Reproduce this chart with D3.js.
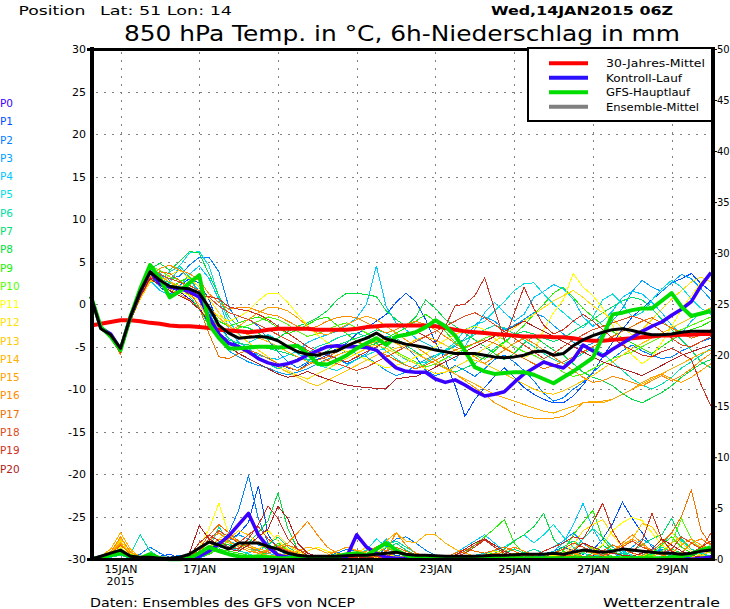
<!DOCTYPE html>
<html><head><meta charset="utf-8">
<script src="https://cdn.jsdelivr.net/npm/d3@7/dist/d3.min.js"></script>
<style>
body{margin:0;background:#fff;}
svg{display:block;}
text{font-family:"DejaVu Sans",sans-serif;fill:#000;}
</style>
</head><body>
<svg id="c" width="730" height="609"></svg>
<script>
// ---------------- DATA ----------------
const stepHours = 6;            // forecast step, 0..378 h from 14JAN2015 06Z
const dateTickHours = [18, 66, 114, 162, 210, 258, 306, 354];
const dateTickLabels = ["15JAN","17JAN","19JAN","21JAN","23JAN","25JAN","27JAN","29JAN"];
const yearLabel = "2015";
const tempTicks = [30,25,20,15,10,5,0,-5,-10,-15,-20,-25,-30];
const precipTicks = [50,45,40,35,30,25,20,15,10,5,0];
const memberNames = ["P0","P1","P2","P3","P4","P5","P6","P7","P8","P9","P10","P11","P12","P13","P14","P15","P16","P17","P18","P19","P20"];
const memberColors = ["#3c00ff","#0050ff","#0080ff","#00a0ff","#00c8ff","#00e0e0","#00e0a8","#00e070","#00e040","#20f000","#50ff00","#ffff00","#ffe000","#ffc800","#ffb000","#ffa000","#ff8c00","#f07000","#e04a20","#d03020","#b02020"];
const legendLabels = ["30-Jahres-Mittel","Kontroll-Lauf","GFS-Hauptlauf","Ensemble-Mittel"];

// 850 hPa temperature (deg C), 6-hourly
const climTemp = [-2.5,-2.3,-2.1,-1.9,-1.9,-2.0,-2.2,-2.3, -2.5,-2.6,-2.6,-2.7,-2.8,-3.0,-3.1,-3.2, -3.3,-3.2,-3.0,-2.9,-2.9,-2.9,-2.9,-3.0, -3.0,-3.0,-3.0,-2.9,-2.7,-2.6,-2.5,-2.5, -2.5,-2.5,-2.5,-2.6,-2.8,-3.0,-3.2,-3.3, -3.4,-3.5,-3.6,-3.7,-3.8,-3.8,-3.8,-3.9, -3.9,-4.0,-4.2,-4.3,-4.3,-4.2,-4.1,-4.0, -3.9,-3.8,-3.7,-3.7,-3.6,-3.6,-3.5,-3.5];
const controlTemp = [0.9,-2.8,-3.5,-5.3,-1.5,1.5,3.8,2.4, 2.0,1.8,1.5,0.8,-1.5,-3.5,-4.6,-5.0, -5.6,-6.4,-6.9,-7.2,-7.0,-6.6,-6.0,-5.5, -5.0,-4.9,-5.0,-5.0,-5.1,-5.4,-6.5,-7.5, -7.9,-8.0,-8.0,-8.8,-9.2,-8.9,-9.5,-10.2, -10.8,-10.6,-10.3,-9.2,-8.2,-7.5,-6.8,-7.2, -7.5,-6.5,-4.8,-5.5,-6.1,-5.3,-4.6,-3.9, -3.2,-2.6,-2.1,-1.3,-0.6,0.3,2.2,3.7];
const operTemp = [0.9,-2.7,-3.8,-5.4,-1.5,1.8,4.6,3.0, 0.8,1.5,2.5,3.4,-2.4,-4.0,-5.2,-5.2, -5.1,-5.0,-5.0,-5.1,-5.0,-4.9,-5.8,-7.0, -7.1,-6.6,-6.0,-5.2,-4.6,-4.0,-4.8,-3.8, -3.6,-3.3,-2.7,-1.9,-2.6,-3.7,-5.5,-7.4, -7.9,-8.2,-8.1,-8.0,-8.0,-8.3,-8.8,-9.3, -8.6,-7.9,-7.1,-6.3,-3.8,-1.2,-1.0,-0.7, -0.5,-0.5,0.4,1.3,-0.3,-1.4,-1.1,-0.8];
const meanTemp = [0.9,-2.9,-3.6,-5.2,-1.5,1.5,3.8,2.8, 2.1,1.9,1.8,1.3,-0.4,-2.5,-3.4,-4.0, -3.9,-3.8,-3.9,-4.3,-5.0,-5.6,-5.9,-6.0, -5.7,-5.5,-4.9,-4.4,-4.0,-3.4,-4.1,-4.4, -4.7,-4.9,-5.1,-5.4,-5.6,-5.8,-5.8,-5.8, -6.0,-6.2,-6.3,-6.2,-6.0,-5.6,-5.5,-6.0, -5.8,-4.9,-4.2,-3.7,-3.3,-3.0,-2.9,-3.1, -3.4,-3.6,-3.6,-3.5,-3.3,-3.2,-3.2,-3.2];

const tempP0 = [1,-2.8,-3.6,-5.3,-1.6,1.4,3.7,2.3, 1.9,1.5,0.6,-0.4,-2.4,-3.9,-4.6,-5.1, -5.7,-6.5,-6.8,-7.1,-7.0,-6.5,-6.1,-5.4, -5.1,-4.8,-5.1,-4.9,-5.2,-5.5,-6.4,-7.4, -7.8,-8.1,-8.1,-8.7,-9.3,-8.8,-9.6,-10.1, -10.7,-10.5,-10.2,-9.1,-8.3,-7.4,-6.9,-7.1, -7.6,-6.4,-4.9,-5.4,-6.0,-5.2,-4.7,-3.8, -3.3,-2.5,-2.2,-1.2,-0.7,0.4,2.1,3.6];
const tempP1 = [1,-2.9,-3.9,-5.6,-1.8,1.2,3.4,2.0, 1.2,2.2,3.0,2.5,0.5,-2.5,-4.0,-5.0, -5.6,-6.0,-6.3,-7.0,-7.5,-7.8,-7.0,-6.5, -6.0,-5.2,-4.6,-3.5,-2.8,-2.0,-1.2,0.2, 1.3,0.3,-1.8,-4.5,-6.6,-9.6,-13.2,-11.2, -9.8,-8.5,-7.5,-8.6,-9.8,-10.6,-11.2,-11.6, -11.6,-10.8,-9.5,-8.0,-6.2,-4.5,-3.0,-1.5, -0.5,0.5,1.5,2.5,3.0,3.6,2.4,1.5];
const tempP2 = [1,-2.7,-3.6,-5.2,-1.2,1.8,3.9,3.4, 3.0,3.3,4.6,5.5,5.5,3.8,-0.3,-2.2, -1.8,-2.6,-4.2,-5.6,-6.8,-7.5,-6.8,-6.0, -5.8,-6.4,-7.0,-6.5,-5.8,-4.5,-3.8,-4.2, -5.0,-6.2,-7.8,-8.4,-8.0,-7.2,-7.8,-8.5, -7.6,-6.5,-6.0,-6.8,-7.8,-9.0,-10.5,-11.4, -11.0,-10.0,-9.2,-8.0,-7.0,-6.4,-5.5,-4.8, -5.5,-6.0,-6.4,-6.2,-5.5,-5.0,-4.4,-4.0];
const tempP3 = [1,-2.8,-3.9,-5.7,-2.0,0.8,3.0,3.6, 2.8,4.2,3.0,1.5,-0.8,-3.5,-5.5,-6.2, -6.8,-7.2,-7.5,-8.0,-8.3,-8.0,-7.6,-7.0, -6.5,-6.0,-5.5,-5.8,-6.2,-7.0,-7.8,-8.4, -8.0,-7.2,-6.5,-6.0,-5.5,-5.0,-4.0,-2.5, -1.5,-2.0,-3.0,-2.5,-1.8,-1.0,-1.5,-2.5, -3.5,-4.5,-5.0,-4.6,-3.5,-2.0,-0.5,1.5, 2.8,2.0,1.5,2.5,3.5,3.0,1.8,0.5];
const tempP4 = [1,-2.7,-3.7,-5.4,-1.9,1.0,2.8,1.6, 1.0,2.0,3.5,4.5,3.0,0.5,-3.0,-4.5, -5.2,-6.0,-6.3,-6.5,-6.0,-5.5,-4.5,-4.0, -3.6,-3.2,-2.5,-1.6,0.0,4.5,-0.3,-2.2, -3.0,-4.0,-4.6,-5.2,-6.0,-6.6,-5.0,-3.0, -1.0,0.2,-1.0,-2.0,-1.2,0.8,1.5,2.3, 1.8,0.6,-1.5,-2.6,-2.0,-0.8,0.8,1.5, 1.2,0.2,-1.0,-2.5,-3.5,-2.0,-1.0,-0.5];
const tempP5 = [1,-2.9,-4.0,-5.5,-1.6,1.5,3.2,2.0, 2.5,4.5,6.0,6.2,4.5,0.8,-2.0,-3.5, -4.5,-4.0,-3.6,-4.2,-5.0,-5.8,-6.5,-7.2, -7.5,-7.8,-7.2,-6.5,-6.0,-5.5,-5.2,-5.8, -6.5,-7.0,-6.8,-6.0,-5.4,-4.5,-3.0,-2.5, -2.0,-0.8,0.3,1.6,2.4,2.5,1.2,0.0, -1.0,-2.0,-2.8,-1.5,0.5,1.2,0.0,-1.5, -1.0,0.5,1.8,2.8,2.0,0.6,-0.5,-1.2];
const tempP6 = [1,-2.8,-3.8,-5.4,-1.4,1.3,2.5,2.8, 3.8,4.5,3.2,1.0,-1.2,-2.8,-4.0,-4.8, -5.5,-6.2,-7.0,-7.6,-7.0,-6.4,-5.8,-5.0, -4.6,-4.0,-3.6,-3.4,-3.8,-4.6,-5.5,-6.4, -7.2,-7.6,-7.0,-6.2,-5.5,-4.8,-4.2,-3.6, -3.0,-2.5,-2.8,-3.5,-4.2,-5.0,-5.8,-6.5, -7.0,-6.5,-5.8,-5.2,-5.8,-6.8,-7.8,-8.8, -9.5,-10.0,-9.4,-8.6,-7.5,-6.8,-6.0,-5.2];
const tempP7 = [1,-2.7,-3.7,-5.3,-1.7,1.6,3.6,3.0, 2.5,2.0,1.0,-0.6,-2.5,-3.5,-4.2,-4.6, -4.8,-5.0,-5.2,-5.5,-5.8,-6.2,-6.6,-6.2, -5.5,-4.8,-4.4,-4.0,-3.6,-3.0,-3.4,-4.0, -4.8,-5.6,-6.4,-7.0,-7.5,-8.0,-7.5,-7.0, -6.2,-5.2,-4.4,-3.6,-3.2,-3.5,-4.0,-4.4, -4.0,-3.2,-2.5,-1.8,-1.0,-0.3,0.4,0.8, 0.5,-0.5,-1.8,-3.0,-4.2,-5.4,-6.8,-7.5];
const tempP8 = [1,-2.8,-3.9,-5.6,-1.3,1.9,4.2,4.8, 4.0,5.0,6.2,6.0,3.5,1.0,-1.5,-2.6, -2.8,-3.4,-4.2,-4.0,-3.2,-2.6,-2.2,-1.6, -0.8,0.5,1.3,1.3,1.1,0.9,-0.8,-1.8, -2.6,-1.5,0.5,-0.5,-1.8,-2.6,-3.4,-4.2, -5.0,-5.8,-6.5,-5.8,-4.6,-3.8,-4.6,-5.4, -6.0,-7.0,-8.0,-8.6,-9.0,-9.6,-10.5,-11.2, -11.6,-11.0,-10.4,-9.6,-8.6,-7.8,-7.0,-6.5];
const tempP9 = [1,-2.9,-4.0,-5.6,-1.5,1.6,3.8,2.6, 2.0,2.6,3.2,2.0,-0.5,-2.0,-2.6,-2.2, -1.8,-1.5,-2.0,-2.8,-3.5,-3.0,-2.4,-1.8, -1.5,-2.5,-3.5,-4.4,-5.0,-4.6,-4.0,-3.4, -2.8,-2.0,-1.2,-2.0,-3.2,-4.5,-5.6,-6.0, -6.5,-5.5,-4.5,-3.6,-2.5,-1.2,0.0,1.3, 2.0,0.8,-0.5,-1.5,-2.5,-3.2,-4.0,-4.6, -5.2,-5.8,-5.0,-4.2,-3.5,-3.0,-2.6,-2.0];
const tempP10 = [1,-2.7,-3.6,-5.2,-1.2,2.0,4.5,4.0, 3.2,2.8,2.0,0.5,-1.5,-2.8,-3.2,-2.8, -2.5,-2.0,-1.5,-1.8,-2.4,-3.2,-3.8,-3.5, -3.0,-2.5,-2.2,-2.8,-3.4,-4.0,-4.8,-5.6, -6.2,-6.8,-7.4,-7.0,-6.4,-5.8,-5.2,-4.6, -4.0,-3.6,-4.2,-5.0,-5.6,-6.0,-6.6,-7.2, -8.0,-8.5,-8.2,-7.6,-7.0,-6.4,-6.0,-5.6, -5.0,-4.4,-3.8,-3.4,-3.0,-2.5,-2.0,-1.5];
const tempP11 = [1,-2.8,-3.7,-5.4,-1.6,1.2,3.4,2.8, 2.2,1.5,1.0,0.5,-0.6,-1.4,-2.0,-1.5, -0.8,0.4,1.3,1.3,0.2,-1.2,-2.5,-3.6, -4.5,-5.2,-5.6,-6.0,-6.5,-7.0,-7.5,-7.2, -6.8,-6.2,-5.8,-5.0,-4.2,-3.6,-3.0,-2.6, -3.0,-4.0,-5.0,-5.8,-6.4,-5.6,-3.0,-1.0, 0.5,3.6,2.0,1.0,-0.5,-2.5,-4.5,-6.0, -7.0,-6.2,-4.5,-2.6,-0.6,1.0,2.6,3.4];
const tempP12 = [1,-2.8,-3.8,-5.5,-1.8,0.9,2.8,2.4, 3.4,4.0,3.0,2.0,0.6,-1.0,-2.5,-3.6, -4.5,-5.4,-6.2,-7.0,-7.8,-8.4,-8.8,-8.2, -7.6,-7.0,-6.4,-5.8,-5.2,-4.8,-5.2,-5.8, -6.4,-7.0,-7.6,-8.2,-8.0,-7.4,-6.8,-6.0, -5.2,-4.4,-3.6,-2.8,-2.0,-1.2,-0.4,0.4, 1.0,1.6,0.8,-0.2,-1.0,-1.8,-2.8,-3.6, -3.0,-1.8,-0.6,0.6,1.6,2.6,3.2,2.6];
const tempP13 = [1,-2.9,-3.9,-5.7,-2.0,0.6,2.6,3.2, 2.6,1.8,1.2,0.0,-1.8,-3.4,-4.6,-5.2, -5.8,-6.4,-6.8,-7.4,-8.0,-8.6,-9.2,-9.6, -9.0,-8.4,-7.8,-7.2,-6.6,-6.0,-5.6,-5.2, -4.8,-4.2,-3.8,-4.2,-4.8,-5.4,-6.0,-6.6, -7.0,-7.6,-8.2,-8.8,-9.4,-10.0,-10.4,-10.6, -10.2,-9.6,-9.0,-8.4,-7.6,-6.8,-6.0,-5.2, -4.6,-4.0,-3.4,-2.8,-2.2,-1.6,-1.0,-0.4];
const tempP14 = [1,-2.7,-3.7,-5.3,-1.5,1.7,3.7,3.3, 2.6,2.2,1.6,0.8,-0.4,-1.6,-2.6,-3.2, -3.6,-4.0,-4.4,-5.0,-5.6,-6.2,-6.8,-7.0, -6.6,-6.0,-5.6,-5.2,-4.8,-4.4,-4.0,-4.6, -5.2,-5.8,-6.4,-7.0,-7.6,-8.2,-8.8,-9.4, -10.0,-10.6,-11.0,-11.4,-11.8,-12.2,-12.6,-12.8, -12.4,-12.0,-11.6,-11.4,-11.6,-11.2,-10.6,-10.0, -9.4,-8.8,-8.2,-7.6,-7.0,-6.4,-5.8,-5.4];
const tempP15 = [1,-2.8,-3.8,-5.6,-1.7,1.4,3.3,2.4, 1.8,1.2,0.5,-0.6,-1.8,-2.6,-3.2,-2.6, -1.8,-1.0,-0.4,-0.4,-0.8,-1.6,-2.6,-3.4, -3.6,-3.0,-2.4,-1.8,-1.4,-1.8,-2.6,-3.4, -4.2,-5.0,-5.8,-6.6,-7.4,-8.2,-9.0,-9.8, -10.6,-11.6,-12.2,-12.8,-13.2,-13.4,-13.4,-13.4, -13.2,-12.6,-11.6,-11.6,-11.4,-11.2,-10.6,-10.0, -9.2,-8.6,-8.2,-8.8,-9.2,-8.6,-7.8,-7.0];
const tempP16 = [1,-2.9,-4.0,-5.8,-1.9,1.1,3.2,4.2, 4.6,4.0,3.6,2.8,1.2,0.2,-0.6,-0.4, -0.4,-0.8,-1.2,-1.4,-2.0,-2.6,-3.0,-2.6, -2.0,-1.6,-1.4,-1.6,-2.2,-2.8,-3.4,-3.0, -2.4,-2.0,-2.4,-3.0,-3.8,-4.6,-5.4,-6.2, -7.0,-6.2,-5.4,-4.6,-4.0,-4.6,-5.4,-6.2, -7.0,-7.8,-8.6,-9.2,-9.0,-8.5,-8.8,-9.2, -9.6,-9.0,-8.4,-9.0,-8.4,-7.6,-6.6,-5.8];
const tempP17 = [1,-2.8,-3.9,-5.9,-2.1,0.8,2.9,3.8, 3.6,2.8,1.6,-0.4,-3.5,-6.2,-6.4,-5.8, -5.4,-5.8,-6.4,-7.0,-7.4,-7.8,-7.2,-6.6, -6.2,-5.6,-5.0,-4.4,-4.8,-5.4,-6.0,-6.6, -7.2,-7.6,-7.2,-6.6,-6.0,-5.4,-5.0,-4.6, -4.2,-4.6,-5.2,-5.8,-6.4,-7.0,-7.6,-7.2, -6.8,-6.2,-5.6,-5.0,-4.4,-3.8,-3.2,-2.6, -2.0,-1.6,-2.2,-2.8,-3.4,-4.0,-3.6,-3.0];
const tempP18 = [1,-2.7,-3.8,-5.6,-1.4,1.5,3.6,3.5, 3.0,2.6,2.2,1.6,0.8,-0.2,-1.0,-1.4, -1.8,-2.4,-3.0,-3.6,-4.2,-4.8,-5.4,-6.0, -6.6,-7.0,-7.4,-7.8,-7.4,-6.8,-6.2,-5.6, -5.0,-4.4,-3.8,-3.2,-2.6,-2.0,-1.4,-1.0, -1.6,-2.4,-3.2,-4.0,-4.8,-5.6,-6.4,-5.8, -5.0,-4.2,-3.6,-3.0,-2.6,-2.2,-1.8,-1.4, -1.8,-2.4,-3.2,-4.0,-4.8,-5.0,-4.4,-3.8];
const tempP19 = [1,-2.8,-3.7,-5.5,-1.8,1.3,3.1,2.7, 2.2,1.8,1.2,0.9,0.9,0.6,-0.3,-0.6, -0.8,-1.2,-1.8,-2.6,-3.4,-4.2,-5.0,-5.6, -6.0,-6.4,-6.8,-6.2,-5.6,-5.0,-4.4,-3.8, -3.4,-3.2,-3.8,-4.6,-2.6,-0.2,0.0,1.0, 3.1,-0.6,-4.2,-1.1,2.0,-0.5,-2.5,-3.5, -3.0,-2.0,-1.2,-2.0,-3.0,-4.0,-4.8,-5.4, -6.0,-6.2,-5.6,-5.2,-5.8,-6.5,-9.5,-12.0];
const tempP20 = [1,-2.9,-4.0,-5.7,-2.0,0.9,3.0,2.2, 1.6,1.0,0.4,-0.6,-2.0,-3.6,-5.0,-5.8, -6.4,-7.0,-7.6,-8.2,-8.6,-8.4,-7.9,-8.4, -8.8,-9.2,-9.5,-9.7,-9.8,-9.9,-9.9,-8.8, -8.6,-8.5,-8.0,-7.4,-6.8,-6.2,-5.6,-5.0, -4.4,-3.8,-3.2,-2.6,-2.0,-2.6,-3.2,-3.8, -4.4,-5.0,-5.6,-6.2,-6.8,-7.2,-7.6,-8.0, -8.4,-7.8,-7.2,-6.6,-6.0,-5.6,-5.2,-4.8];
const memberTemps = [tempP0,tempP1,tempP2,tempP3,tempP4,tempP5,tempP6,tempP7,tempP8,tempP9,tempP10,tempP11,tempP12,tempP13,tempP14,tempP15,tempP16,tempP17,tempP18,tempP19,tempP20];

// 6-h precipitation (mm)
const controlPrec = [0,0.2,0.5,0.8,0.2,0.1,0,0, 0,0,0.1,0.3,0.8,1.5,2.3,3.4, 4.5,2.4,1.2,0.4,0.2,0.1,0,0, 0,0.1,0.3,2.4,1.2,0.6,0.2,0.1, 0.1,0,0,0,0,0,0,0, 0,0,0,0,0.1,0.1,0.1,0, 0,0,0.1,0.1,0.1,0,0,0, 0,0,0.1,0.1,0.1,0,0.1,0.2];
const operPrec = [0,0.2,0.4,0.6,0.3,0.1,0.5,0.1, 0,0,0.1,0.6,1.2,0.8,0.5,0.3, 0.2,0.3,0.2,0.1,0.1,0.2,0.1,0.1, 0.2,0.3,0.5,0.6,0.4,1.0,1.6,0.9, 0.4,0.2,0.1,0.1,0.1,0.1,0.1,0.1, 0.1,0.1,0.1,0.1,0.1,0.1,0.1,0.1, 0.1,0.1,0.1,0.1,0.1,0.1,0.1,0.1, 0.1,0.1,0.1,0.2,0.3,0.5,0.9,1.2];
const meanPrec = [0,0.3,0.6,0.9,0.3,0.2,0.2,0.1, 0.1,0.2,0.5,1.1,1.7,1.4,1.0,1.6, 1.6,1.6,1.25,1.0,0.6,0.4,0.3,0.3, 0.3,0.3,0.35,0.4,0.4,0.5,0.6,0.7, 0.5,0.4,0.4,0.35,0.3,0.3,0.3,0.3, 0.35,0.4,0.4,0.45,0.5,0.5,0.5,0.6, 0.5,0.7,0.9,0.8,0.7,0.8,1.0,0.9, 0.8,0.7,0.6,0.6,0.5,0.6,0.8,0.9];

const precP0 = [0,0.2,0.5,0.8,0.2,0.1,0,0, 0,0,0.1,0.3,0.8,1.4,2.2,3.3, 4.4,2.5,1.2,0.4,0.2,0.1,0,0, 0,0.1,0.3,2.2,1.1,0.5,0.2,0.1, 0,0,0,0,0,0,0,0, 0,0,0,0,0.2,0.3,0.1,0, 0,0,0.1,0.4,0.2,0,0,0, 0,0,0.1,0.3,0.1,0,0.2,0.4];
const precP1 = [0,0.1,0.3,0.5,0.1,0,0,0.3, 0.5,0.1,0,0.2,0.6,1.2,1.8,2.5, 3.6,7.2,2.4,1.0,0.3,0.1,0,0, 0.2,0.4,0.2,0,0.1,0.3,0.6,0.4, 0.2,0.1,0,0,0,0,0.1,0.2, 0.3,0.2,0,0,0.1,0.2,0.5,0.8, 1.2,0.8,0.5,0.9,2.0,3.5,5.6,4.0, 2.6,1.2,0.6,0.3,0.1,0.2,0.4,0.3];
const precP2 = [0,0.1,0.4,0.7,0.2,0.5,1.2,0.6, 0.2,0.4,0.1,0.3,0.8,1.5,2.6,4.8, 8.2,4.0,1.6,0.6,0.2,0,0,0.1, 0.3,0.6,1.0,0.8,0.4,0.2,1.2,2.0, 2.2,1.6,0.9,0.4,0.2,0,0,0, 0.1,0.3,0.2,0.1,0,0,0.2,0.4, 0.3,0.1,0,0.2,0.5,0.3,0.1,0, 0.2,0.6,1.0,0.6,0.3,0.1,0,0.2];
const precP3 = [0,0.1,0.3,0.6,0.2,0,0,0, 0,0,0,0.1,0.5,1.0,1.8,2.4, 2.0,1.4,1.0,0.5,0.2,0.1,0,0, 0,0.2,0.5,0.3,0.1,0,0.3,0.6, 0.4,0.2,0.1,0,0,0,0.2,0.4, 0.6,0.3,0.1,0,0.2,0.4,0.8,1.2, 1.8,2.6,1.6,0.8,0.4,0.2,0.6,1.2, 2.0,1.4,0.8,0.4,0.2,0.4,0.8,1.2];
const precP4 = [0,0,0.2,0.4,0.1,0,0,0, 0,0,0,0.3,0.9,1.6,1.2,0.8, 0.6,1.0,1.4,0.9,0.4,0.2,0.1,0, 0,0.2,0.4,0.6,0.3,0.8,2.0,1.0, 0.5,0.2,0.1,0,0.2,0.6,1.2,1.8, 2.4,1.6,0.8,0.4,0.2,0.1,0.4,0.8, 1.6,3.4,5.5,3.0,1.4,0.6,0.3,0.1, 0.4,1.0,0.6,0.3,0.2,0.6,1.2,0.9];
const precP5 = [0,0.1,0.3,0.5,0.2,0,0,0, 0,0,0,0.2,0.6,1.2,1.8,1.4, 1.0,0.8,0.6,0.3,0.1,0,0,0, 0,0.1,0.3,0.5,0.9,2.0,1.2,0.6, 0.3,0.1,0,0,0,0.1,0.2,0.4, 0.6,0.8,1.2,1.8,2.4,1.6,2.4,3.4, 2.2,1.2,0.6,0.3,0.5,1.0,0.8,0.4, 0.2,0.6,1.4,2.6,1.8,1.0,0.6,0.3];
const precP6 = [0,0.1,0.5,0.9,0.5,2.4,0.8,0.2, 0,0,0.1,0.4,1.0,3.2,1.6,0.9, 0.5,0.3,0.6,1.0,0.8,0.4,0.2,0.1, 0,0,0.1,0.3,0.6,1.0,1.4,1.8, 1.2,0.6,0.3,0.1,0,0,0.1,0.3, 0.2,0.1,0,0.2,0.6,1.0,0.6,0.3, 0.2,0.8,2.0,3.0,2.2,1.2,0.6,0.3, 0.2,0.5,1.2,0.8,0.4,0.3,1.0,2.6];
const precP7 = [0,0.2,0.4,0.7,0.3,0.1,0,0, 0,0,0,0.2,0.7,1.4,2.2,1.6, 1.2,0.8,1.4,2.2,1.2,0.6,0.3,0.1, 0,0,0.1,0.2,0.4,0.3,0.8,1.6, 0.9,0.4,0.2,0.1,0,0,0,0.1, 0.2,0.3,0.6,1.0,0.6,0.3,0.2,0.6, 1.2,1.8,1.2,0.6,0.3,0.2,0.4,0.8, 1.4,2.0,2.4,4.0,2.0,1.0,0.5,0.3];
const precP8 = [0,0.1,0.3,0.6,0.2,0,0,0, 0,0,0.1,0.3,0.9,1.8,1.4,1.0, 1.6,2.6,3.8,6.5,3.0,1.0,0.4,0.2, 0.1,0,0,0.1,0.2,0.4,0.6,0.3, 0.1,0,0,0,0,0.1,0.2,0.3, 0.4,0.6,1.0,1.8,2.4,3.2,4.5,2.0, 0.8,0.4,0.2,0.6,1.4,0.8,0.4,0.2, 0.1,0.3,0.6,1.0,0.6,0.3,0.2,0.1];
const precP9 = [0,0.2,0.4,0.6,0.2,0,0,0, 0,0,0,0.2,0.5,1.0,0.8,0.6, 0.4,0.3,0.8,1.6,0.9,0.4,0.2,0.1, 0,0.1,0.2,0.4,0.8,1.2,1.7,0.9, 0.4,0.2,0.1,0,0,0.2,0.6,1.4, 2.2,3.0,3.9,1.6,0.6,0.2,0.1,0.3, 0.8,2.4,3.6,4.8,2.0,0.8,0.3,0.1, 0.2,0.6,1.4,2.2,1.2,0.6,0.3,0.2];
const precP10 = [0,0.1,0.3,0.5,0.1,0,0,0, 0,0,0,0.2,0.6,1.2,1.8,1.2, 0.8,0.6,1.0,1.4,0.8,0.4,0.2,0.1, 0.1,0.2,0.4,0.3,0.2,0.6,1.2,0.7, 0.3,0.1,0,0,0,0,0.1,0.2, 0.4,0.3,0.2,0.1,0,0.1,0.3,0.6, 0.4,0.2,0.6,1.2,0.6,0.3,0.2,0.1, 0.2,0.4,0.8,1.6,4.0,2.0,1.0,0.6];
const precP11 = [0,0.2,0.4,1.2,0.4,0.1,0,0, 0,0,0.2,1.2,3.0,5.5,2.4,1.6, 1.4,2.2,2.8,1.8,1.0,0.6,0.8,1.2, 0.8,0.6,0.4,0.2,0.1,0.2,0.4,0.3, 0.2,0.1,0,0,0,0,0,0.2, 0.4,0.8,0.6,0.3,0.2,0.1,0.2,0.4, 1.0,1.6,1.2,0.8,1.4,2.8,3.6,4.1, 3.8,2.6,1.4,0.8,0.4,0.2,0.1,0.2];
const precP12 = [0,0.3,0.8,1.8,0.6,0.1,0,0, 0,0,0.1,0.4,1.0,2.0,2.6,1.8, 1.2,1.0,1.6,2.4,1.4,0.8,0.4,0.2, 0.1,0,0.2,0.6,1.2,0.8,0.4,0.2, 0.1,0,0,0,0,0.1,0.2,0.1, 0,0.1,0.3,0.6,0.4,0.2,0.1,0.3, 0.6,1.4,2.8,3.4,3.9,2.4,1.2,0.6, 0.3,0.8,1.6,2.6,1.6,0.8,0.4,0.2];
const precP13 = [0,0.2,0.6,2.0,0.8,0.2,0,0, 0,0,0,0.3,0.8,1.4,2.0,2.8, 2.4,1.6,1.0,0.6,0.3,0.2,0.1,0, 0,0.1,0.2,0.4,0.2,0.1,0,0.1, 0.2,0.1,0,0,0,0,0,0, 0.1,0.2,0.4,0.2,0.1,0,0.1,0.2, 0.4,0.6,1.0,0.6,0.3,0.6,1.2,2.0, 3.5,3.2,1.8,0.9,0.4,0.2,0.4,0.8];
const precP14 = [0,0.3,1.0,2.6,1.0,0.2,0,0, 0,0,0.1,0.4,1.2,2.0,1.6,1.4, 1.0,0.6,0.4,0.3,0.5,0.8,1.2,1.0, 0.6,0.8,1.2,0.9,0.6,1.0,1.8,2.6, 1.8,1.6,2.4,2.4,1.6,1.0,0.6,0.3, 0.2,0.1,0,0,0,0.1,0.2,0.3, 0.2,0.4,0.8,0.6,0.3,0.2,0.1,0, 0.1,0.3,0.6,1.6,2.2,1.6,1.2,0.8];
const precP15 = [0,0.2,0.6,1.6,0.5,0.1,0,0, 0,0,0,0.3,1.0,1.6,2.2,1.8, 1.4,1.0,0.8,1.2,0.9,0.6,0.3,0.2, 0.4,0.8,1.2,0.8,0.4,0.2,0.5,1.0, 0.6,0.3,0.1,0,0,0,0,0.1, 0.3,0.6,0.4,0.2,0.1,0,0,0.2, 0.5,1.0,1.6,1.0,0.6,0.8,1.4,2.0, 1.4,0.8,0.4,0.6,1.4,2.0,1.4,1.0];
const precP16 = [0,0.2,0.7,2.2,0.7,0.2,0,0, 0,0,0.1,0.6,1.8,2.6,1.8,1.2, 0.8,0.6,0.8,1.2,1.6,2.6,3.7,2.4, 1.2,0.6,0.3,0.5,0.8,1.2,0.8,2.6, 1.4,0.6,0.3,0.1,0,0,0,0.1, 0.2,0.4,0.8,1.2,0.8,0.4,0.2,0.1, 0.2,0.6,0.3,0.2,0.4,0.8,1.6,2.4, 1.6,0.8,0.4,0.2,0.6,1.6,2.0,1.4];
const precP17 = [0,0.2,0.5,1.4,0.5,0.1,0,0, 0,0,0.2,1.0,2.4,3.4,2.6,1.8, 1.2,0.8,0.6,1.0,1.4,1.0,0.6,0.3, 0.2,0.4,0.6,0.4,0.2,0.4,0.8,1.2, 0.8,0.4,0.2,0.1,0.2,0.6,1.0,0.8, 0.6,0.9,1.2,0.8,0.4,0.2,0.1,0.2, 0.4,0.3,0.2,0.4,0.8,1.4,1.0,0.6, 0.4,0.8,1.6,2.6,4.2,6.8,2.8,1.4];
const precP18 = [0,0.1,0.4,1.0,0.3,0,0,0, 0,0,0.1,0.8,2.0,2.8,2.2,1.6, 2.4,3.2,2.0,1.2,0.8,0.5,0.3,0.1, 0,0.1,0.2,0.3,0.2,0.1,0.3,0.6, 0.4,0.2,0.1,0,0.1,0.4,0.8,1.4, 1.9,1.4,0.8,0.4,0.2,0.1,0.2,0.6, 1.0,1.6,1.2,0.8,0.4,0.6,1.2,1.8, 1.2,0.8,0.6,1.0,2.2,1.6,1.0,2.6];
const precP19 = [0,0.1,0.3,0.7,0.2,0,0,0, 0,0,0.3,1.6,2.4,1.8,1.2,1.0, 2.0,3.4,5.2,4.0,2.0,1.0,0.4,0.2, 0,0,0.1,0.2,0.4,0.3,0.2,0.1, 0,0,0,0,0,0.2,0.6,1.2, 1.9,1.2,0.6,0.3,0.2,0.4,0.8,1.2, 1.6,2.2,2.0,3.6,5.5,2.8,1.2,0.6, 1.8,4.5,2.0,0.8,0.4,0.6,1.2,1.8];
const precP20 = [0,0.1,0.4,0.8,0.3,0.1,0,0, 0,0,0.6,3.3,2.0,1.4,1.0,0.8, 1.4,2.2,3.0,5.2,4.0,1.6,0.6,0.3, 0.1,0,0,0.1,0.2,0.1,0,0, 0,0,0,0.1,0.2,0.4,1.0,1.6, 2.0,1.4,0.8,0.4,0.2,0.1,0,0.1, 0.3,0.8,1.6,1.2,0.8,0.6,0.4,0.3, 0.6,1.0,2.0,1.4,0.8,0.4,0.2,0.3];
const memberPrecs = [precP0,precP1,precP2,precP3,precP4,precP5,precP6,precP7,precP8,precP9,precP10,precP11,precP12,precP13,precP14,precP15,precP16,precP17,precP18,precP19,precP20];

// ---------------- CHART ----------------
const svg = d3.select("#c");
const x = d3.scaleLinear().domain([0, 378]).range([91, 711]);
const yT = d3.scaleLinear().domain([-30, 30]).range([559.3, 49]);
const yP = d3.scaleLinear().domain([0, 50]).range([559.3, 49]);

// gridlines
const grid = svg.append("g").attr("stroke", "#808080").attr("stroke-width", 1)
  .attr("stroke-dasharray", "2,6").attr("shape-rendering", "crispEdges");
grid.selectAll("line.h").data(tempTicks.filter(t => t > -30 && t < 30)).join("line")
  .attr("x1", 96).attr("x2", 711)
  .attr("y1", d => Math.round(yT(d)) + 0.5).attr("y2", d => Math.round(yT(d)) + 0.5);
grid.selectAll("line.v").data(dateTickHours).join("line")
  .attr("x1", d => Math.round(x(d)) + 0.5).attr("x2", d => Math.round(x(d)) + 0.5)
  .attr("y1", 52).attr("y2", 558);

const lineT = d3.line().x((d, i) => x(i * stepHours)).y(d => yT(d));
const lineP = d3.line().x((d, i) => x(i * stepHours)).y(d => yP(d));

// members
const mg = svg.append("g").attr("fill", "none").attr("stroke-width", 1).attr("shape-rendering", "crispEdges");
memberPrecs.forEach((s, k) => mg.append("path").attr("d", lineP(s)).attr("stroke", memberColors[k]));
memberTemps.forEach((s, k) => mg.append("path").attr("d", lineT(s)).attr("stroke", memberColors[k]));

// main lines
const main = svg.append("g").attr("fill", "none").attr("stroke-linejoin", "round");
main.append("path").attr("d", lineT(climTemp)).attr("stroke", "#ff0000").attr("stroke-width", 4);
main.append("path").attr("d", lineP(controlPrec)).attr("stroke", "#3a00ff").attr("stroke-width", 3.5);
main.append("path").attr("d", lineT(controlTemp)).attr("stroke", "#3a00ff").attr("stroke-width", 3.5);
main.append("path").attr("d", lineP(operPrec)).attr("stroke", "#00dd00").attr("stroke-width", 4);
main.append("path").attr("d", lineT(operTemp)).attr("stroke", "#00dd00").attr("stroke-width", 4);
main.append("path").attr("d", lineP(meanPrec)).attr("stroke", "#000").attr("stroke-width", 3);
main.append("path").attr("d", lineT(meanTemp)).attr("stroke", "#000").attr("stroke-width", 3);

// frame
const frame = svg.append("g").attr("stroke", "#000").attr("shape-rendering", "crispEdges");
frame.append("line").attr("x1", 92).attr("x2", 92).attr("y1", 47).attr("y2", 561).attr("stroke-width", 4);
frame.append("line").attr("x1", 713).attr("x2", 713).attr("y1", 47).attr("y2", 561).attr("stroke-width", 4);
frame.append("line").attr("x1", 87).attr("x2", 715).attr("y1", 49).attr("y2", 49).attr("stroke-width", 3);
frame.append("line").attr("x1", 87).attr("x2", 715).attr("y1", 559.5).attr("y2", 559.5).attr("stroke-width", 3);

// axes
const axL = svg.append("g").attr("transform", "translate(90,0)")
  .call(d3.axisLeft(yT).tickValues(tempTicks).tickSize(0).tickPadding(4).tickFormat(d => d));
axL.select(".domain").remove();
axL.selectAll("text").attr("font-size", 11).attr("font-family", "DejaVu Sans").attr("fill", "#000");

const axR = svg.append("g").attr("transform", "translate(714,0)")
  .call(d3.axisRight(yP).tickValues(precipTicks).tickSize(3).tickPadding(0).tickFormat(d => d));
axR.select(".domain").remove();
axR.selectAll("line").attr("stroke", "#000");
axR.selectAll("text").attr("font-size", 10).attr("font-family", "DejaVu Sans").attr("fill", "#000");

const axB = svg.append("g").attr("transform", "translate(0,561)")
  .call(d3.axisBottom(x).tickValues(dateTickHours).tickSize(0).tickPadding(4).tickFormat((d, i) => dateTickLabels[i]));
axB.select(".domain").remove();
axB.selectAll("text").attr("font-size", 11).attr("font-family", "DejaVu Sans").attr("fill", "#000");
svg.append("text").attr("x", x(dateTickHours[0])).attr("y", 585).attr("text-anchor", "middle")
  .attr("font-size", 11).text(yearLabel);

// member labels
svg.append("g").selectAll("text").data(memberNames).join("text")
  .attr("x", 0).attr("y", (d, i) => 107 + i * 18.28)
  .attr("font-size", 10.5).style("fill", (d, i) => memberColors[i])
  .text(d => d);

// legend
const lg = svg.append("g");
lg.append("rect").attr("x", 528).attr("y", 48).attr("width", 184).attr("height", 73)
  .attr("fill", "#fff").attr("stroke", "#000").attr("stroke-width", 2);
const legendColors = ["#ff0000", "#2a10ff", "#00dd00", "#808080"];
const legendWidths = [99, 76, 84, 93];
legendLabels.forEach((t, i) => {
  const yy = 63.3 + i * 14.5;
  lg.append("line").attr("x1", 549).attr("x2", 588).attr("y1", yy).attr("y2", yy)
    .attr("stroke", legendColors[i]).attr("stroke-width", 4);
  lg.append("text").attr("x", 606).attr("y", yy + 4).attr("font-size", 11)
    .attr("textLength", legendWidths[i]).attr("lengthAdjust", "spacingAndGlyphs").text(t);
});

// titles
svg.append("text").attr("x", 18.5).attr("y", 14.5).attr("font-size", 13)
  .attr("textLength", 67).attr("lengthAdjust", "spacingAndGlyphs").text("Position");
svg.append("text").attr("x", 100).attr("y", 14.5).attr("font-size", 13)
  .attr("textLength", 132).attr("lengthAdjust", "spacingAndGlyphs").text("Lat: 51 Lon: 14");
svg.append("text").attr("x", 491).attr("y", 14.5).attr("font-size", 13).attr("font-weight", "bold")
  .attr("textLength", 182).attr("lengthAdjust", "spacingAndGlyphs").text("Wed,14JAN2015 06Z");
svg.append("text").attr("x", 124).attr("y", 41).attr("font-size", 21)
  .attr("textLength", 556).attr("lengthAdjust", "spacingAndGlyphs").text("850 hPa Temp. in °C, 6h-Niederschlag in mm");
svg.append("text").attr("x", 90).attr("y", 607).attr("font-size", 12)
  .attr("textLength", 265).attr("lengthAdjust", "spacingAndGlyphs").text("Daten: Ensembles des GFS von NCEP");
svg.append("text").attr("x", 603).attr("y", 607).attr("font-size", 13)
  .attr("textLength", 117).attr("lengthAdjust", "spacingAndGlyphs").text("Wetterzentrale");
</script>
</body></html>
